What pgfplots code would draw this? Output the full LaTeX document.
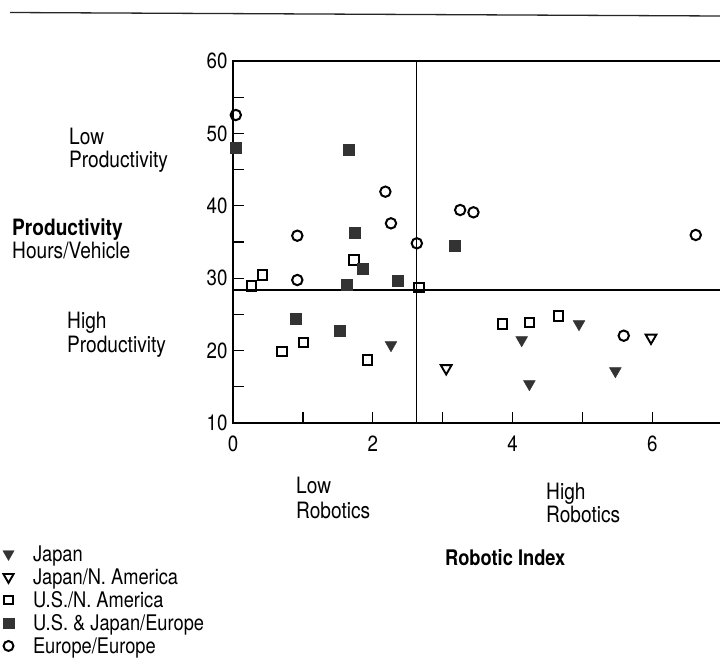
\documentclass[border=0pt]{standalone}
\usepackage{fontspec}
\setmainfont{TeX Gyre Heros}[FakeStretch=0.85]
\usepackage{pgfplots}
\pgfplotsset{compat=1.18}
\definecolor{markgray}{HTML}{333333}
\newcommand{\tf}{\fontsize{22.5bp}{24bp}\selectfont}
\begin{document}
\begin{tikzpicture}
\fill[white] (0bp,-660bp) rectangle (720bp,0bp);
\begin{axis}[
  at={(233bp,-423bp)}, anchor=south west,
  scale only axis, width=490bp, height=362bp,
  xmin=0, xmax=7.01, ymin=10, ymax=60,
  axis line style={line width=1.2bp},
  tick style={line width=1.2bp, black},
  tick align=inside, tick pos=left, major tick length=11bp,
  xtick={0,1,2,3,4,5,6}, xticklabels={0,,2,,4,,6},
  ytick={10,15,...,60}, yticklabels={10,,20,,30,,40,,50,,60},
  /pgf/number format/assume math mode=true,
  ticklabel style={font=\fontsize{22bp}{24bp}\selectfont},
  xticklabel style={yshift=-9bp},
  yticklabel style={xshift=-2bp},
  clip=false,
  legend cell align=left,
  legend style={draw=none, fill=none, inner sep=0pt, outer sep=0pt,
    at={(axis description cs:-0.4755,-0.3417)}, anchor=north west,
    font=\fontsize{21.5bp}{23bp}\selectfont,
    row sep=3.5bp, column sep=0bp,
    nodes={inner sep=0pt, text height=14.5bp, text depth=5bp}},
  legend image code/.code={%
    \path[draw=none, fill=none] (0bp,-9.5bp) rectangle (33bp,9.5bp);
    \draw[#1, every mark/.append style={scale=0.95}] plot coordinates {(8.5bp,2.5bp)};},
]
\addplot[black, line width=1.2bp, forget plot] coordinates {(2.63,10) (2.63,60)};
\addplot[black, line width=1.2bp, forget plot] coordinates {(0,28.37) (7.01,28.37)};

\addplot[only marks, mark=triangle*, mark size=6.8bp,
  mark options={rotate=180, fill=markgray, draw=markgray, line width=0.4bp}]
  coordinates {(2.26,20.77) (4.13,21.46) (4.24,15.39) (4.95,23.67) (5.47,17.18)};
\addlegendentry{Japan}

\addplot[only marks, mark=triangle, mark size=6.2bp,
  mark options={rotate=180, draw=black, line width=1.9bp}]
  coordinates {(3.05,17.56) (5.98,21.78)};
\addlegendentry{Japan/N. America}

\addplot[only marks, mark=square, mark size=4.6bp,
  mark options={draw=black, line width=2bp}]
  coordinates {(0.27,28.92) (0.42,30.44) (1.73,32.51) (2.66,28.69) (0.70,19.85)
               (1.01,21.15) (1.92,18.70) (3.85,23.67) (4.24,23.91) (4.66,24.78)};
\addlegendentry{U.S./N. America}

\addplot[only marks, mark=square*, mark size=5.5bp,
  mark options={fill=markgray, draw=markgray, line width=0.3bp}]
  coordinates {(0.04,48.03) (1.66,47.75) (1.74,36.34) (1.86,31.27) (1.63,29.06)
               (2.36,29.61) (3.17,34.45) (0.90,24.46) (1.53,22.71)};
\addlegendentry{U.S. \& Japan/Europe}

\addplot[only marks, mark=o, mark size=5.2bp,
  mark options={draw=black, line width=2bp}]
  coordinates {(0.04,52.54) (0.92,35.87) (0.92,29.75) (2.18,41.95) (2.26,37.58)
               (2.63,34.82) (3.25,39.42) (3.44,39.10) (6.62,35.97) (5.59,22.06)};
\addlegendentry{Europe/Europe}
\end{axis}

\draw[line width=1.3bp, black!85] (10bp,-12.5bp) -- (720bp,-16bp);

\node[anchor=base west, inner sep=0pt] at (69bp,-144.5bp) {\tf Low};
\node[anchor=base west, inner sep=0pt] at (69bp,-167bp) {\tf Productivity};
\node[anchor=base west, inner sep=0pt] at (67bp,-328.5bp) {\tf High};
\node[anchor=base west, inner sep=0pt] at (67bp,-352bp) {\tf Productivity};
\node[anchor=base west, inner sep=0pt] at (12bp,-235bp) {\fontsize{22.5bp}{24bp}\selectfont\bfseries Productivity};
\node[anchor=base west, inner sep=0pt] at (12bp,-258bp) {\tf Hours/Vehicle};
\node[anchor=base west, inner sep=0pt] at (296bp,-493.5bp) {\tf Low};
\node[anchor=base west, inner sep=0pt] at (296bp,-518.5bp) {\tf Robotics};
\node[anchor=base west, inner sep=0pt] at (546bp,-499bp) {\tf High};
\node[anchor=base west, inner sep=0pt] at (546bp,-522bp) {\tf Robotics};
\node[anchor=base west, inner sep=0pt] at (445bp,-565bp) {\fontsize{21.5bp}{23bp}\selectfont\bfseries Robotic Index};

\pgfresetboundingbox
\path[use as bounding box] (0bp,-660bp) rectangle (720bp,0bp);
\end{tikzpicture}
\end{document}
